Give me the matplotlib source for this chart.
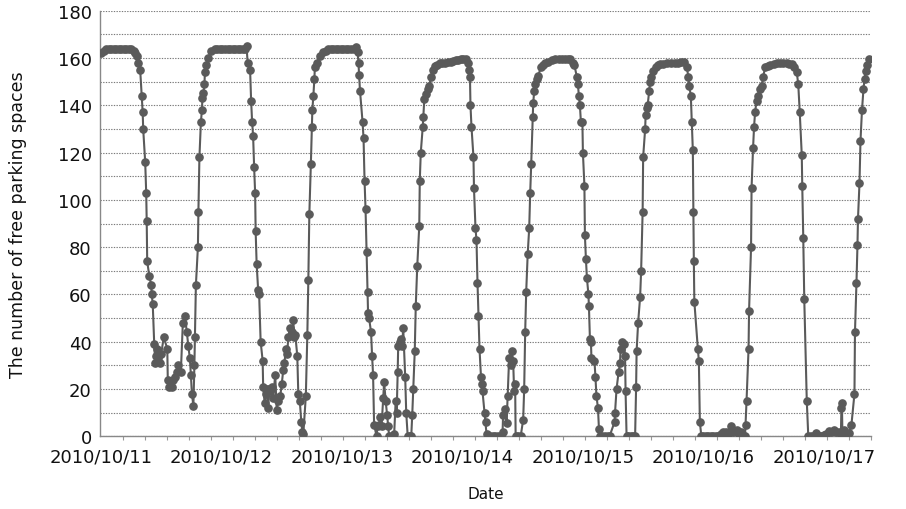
import matplotlib
matplotlib.use("Agg")
import matplotlib.pyplot as plt
from matplotlib.ticker import MultipleLocator, FixedLocator, FixedFormatter

# ── data: free parking spaces, hours counted from 2010/10/11 00:00 ──────────

day1_hours = [0.0, 0.5, 1.0, 1.5, 2.0, 2.5, 3.0, 3.5, 4.0, 4.5, 5.0, 5.5, 6.0, 6.5,
              6.8, 7.1, 7.3, 7.8, 8.1, 8.3, 8.4, 8.8, 9.0, 9.1, 9.2, 9.6, 10.0, 10.1,
              10.3, 10.6, 10.8, 11.0, 11.2, 11.4, 11.8, 12.0, 12.5, 13.2, 13.3, 13.6,
              14.1, 14.4, 14.8, 15.1, 15.4, 15.9, 16.3, 16.7, 17.1, 17.4, 17.7, 17.9,
              18.1, 18.4, 18.6, 18.7, 18.9, 19.3, 19.4, 19.6, 19.9, 20.1, 20.2, 20.4,
              20.6, 20.7, 21.0, 21.4, 22.0, 22.7, 23.2, 23.7]
day1_free = [162, 163, 164, 164, 164, 164, 164, 164, 164, 164, 164, 164, 164, 163,
             162, 161, 158, 155, 144, 137, 130, 116, 103, 91, 74, 68, 64, 60,
             56, 39, 31, 34, 37, 33, 31, 35, 42, 37, 24, 21,
             21, 24, 25, 27, 30, 27, 48, 51, 44, 38, 33, 26,
             18, 13, 30, 42, 64, 80, 95, 118, 133, 138, 143, 145,
             149, 154, 157, 160, 163, 164, 164, 164]

day2_hours = [24.2, 24.7, 25.2, 25.7, 26.2, 26.7, 27.2, 27.7, 28.2, 28.7, 29.0, 29.2,
              29.7, 29.9, 30.1, 30.3, 30.5, 30.7, 30.8, 31.0, 31.3, 31.5, 31.8, 32.2,
              32.3, 32.6, 32.8, 33.0, 33.3, 33.5, 33.7, 34.0, 34.3, 34.7, 35.0, 35.3,
              35.7, 36.0, 36.3, 36.5, 36.9, 37.1, 37.3, 37.7, 38.0, 38.3, 38.5, 38.7,
              39.1, 39.3, 39.6, 39.9, 40.1, 40.3, 40.8, 41.1, 41.3, 41.5, 41.8, 42.0,
              42.1, 42.3, 42.5, 42.6, 43.0, 43.6, 44.3, 44.8, 45.3, 45.8, 46.3, 46.8,
              47.3, 47.8]
day2_free = [164, 164, 164, 164, 164, 164, 164, 164, 164, 164, 165, 158,
             155, 142, 133, 127, 114, 103, 87, 73, 62, 60, 40, 32,
             21, 14, 18, 20, 12, 20, 19, 21, 16, 26, 11, 15,
             17, 22, 28, 31, 37, 35, 42, 46, 44, 49, 42, 43,
             34, 18, 15, 6, 2, 1, 17, 43, 66, 94, 115, 131,
             138, 144, 151, 156, 158, 161, 162.5, 163, 164, 164, 164, 164,
             164, 164]

day3_hours = [48.3, 48.8, 49.3, 49.8, 50.3, 50.7, 51.1, 51.3, 51.4, 51.6, 52.1, 52.3,
              52.5, 52.7, 52.9, 53.1, 53.2, 53.4, 53.8, 54.0, 54.2, 54.4, 54.9, 55.1,
              55.4, 55.6, 55.9, 56.2, 56.4, 56.7, 57.0, 57.2, 57.4, 57.9, 58.4, 58.7,
              58.9, 59.1, 59.2, 59.5, 59.7, 60.0, 60.2, 60.6, 60.8, 61.1, 61.5, 61.8,
              62.0, 62.2, 62.5, 62.7, 63.0, 63.4, 63.5, 63.7, 64.1, 64.2, 64.4, 64.7,
              65.1, 65.4, 65.7, 66.1, 66.5, 67.0, 67.5, 68.0, 68.5, 69.2, 69.7, 70.2,
              70.7, 71.2, 71.7, 72.2]
day3_free = [164, 164, 164, 164, 164, 164.5, 162.5, 158, 153, 146, 133, 126,
             108, 96, 78, 61, 52, 50, 44, 34, 26, 5, 0, 4.5,
             5, 8, 4.5, 16, 23, 15, 9, 4.5, 0, 0, 1, 15,
             10, 27, 38, 40, 41, 38, 46, 25, 10, 0, 0, 0,
             9, 20, 36, 55, 72, 89, 108, 120, 131, 135, 142.5, 144.6,
             146.8, 148, 152, 155, 156.6, 157, 157.7, 158, 158, 158.3, 158.5, 158.7,
             159, 159, 159.4, 159.4]

day4_hours = [72.7, 73.1, 73.3, 73.5, 73.6, 73.8, 74.2, 74.3, 74.6, 74.8, 75.0, 75.2,
              75.4, 75.7, 75.8, 76.0, 76.4, 76.6, 76.8, 77.0, 77.5, 78.0, 78.5, 79.0,
              79.6, 80.0, 80.1, 80.5, 80.8, 81.0, 81.3, 81.6, 81.8, 82.1, 82.3, 82.5,
              82.6, 83.0, 83.6, 84.1, 84.3, 84.5, 84.7, 85.0, 85.3, 85.5, 85.7, 86.0,
              86.1, 86.3, 86.5, 86.8, 87.1, 87.6, 88.0, 88.4, 89.0, 89.8, 90.5, 91.2,
              91.8, 92.5, 93.0, 93.4, 94.0, 94.3, 94.8, 95.0, 95.2, 95.4, 95.6]
day4_free = [159.4, 158, 155, 152, 140, 131, 118, 105, 88, 83, 65, 51,
             37, 25, 22, 19, 10, 6, 1, 0, 0, 0, 0, 0,
             0, 2, 9, 11.5, 5.6, 17, 33, 30, 36, 32, 19, 22,
             0, 0, 0, 7, 20, 44, 61, 77, 88, 103, 115, 135,
             141, 146, 149, 151, 152.4, 156, 157, 158, 158.5, 159.2, 159.5, 159.7,
             159.7, 159.5, 159.4, 159.4, 158, 157, 152, 149, 144, 140, 133]

day5_hours = [95.9, 96.0, 96.3, 96.4, 96.6, 96.8, 97.1, 97.2, 97.4, 97.6, 97.7, 98.3,
              98.5, 98.7, 99.0, 99.2, 99.4, 99.9, 100.4, 100.9, 101.3, 102.3, 102.4, 102.7,
              103.1, 103.4, 103.5, 103.8, 104.2, 104.4, 104.5, 104.7, 105.0, 105.5, 106.0, 106.4,
              106.6, 106.7, 107.0, 107.4, 107.6, 107.9, 108.0, 108.4, 108.5, 108.7, 108.9, 109.2,
              109.4, 109.6, 110.0, 110.5, 111.0, 111.4, 112.0, 112.7, 113.5, 114.3, 115.0, 115.5,
              116.2, 116.7, 117.0, 117.2, 117.5, 117.7, 117.9, 118.0, 118.1, 118.2, 118.9, 119.1,
              119.3, 119.6]
day5_free = [133, 120, 106, 85, 75, 67, 60, 55, 41, 40, 33, 32,
             25, 17, 12, 3, 0, 0, 0, 0, 0, 6, 10, 20,
             27, 31, 37, 40, 39, 34, 19, 0, 0, 0, 0, 0,
             21, 36, 48, 59, 70, 95, 118, 130, 136, 139, 140, 146,
             150, 152, 154.5, 156, 157, 157.3, 157.5, 157.7, 158, 158, 158, 158.3,
             158.5, 156.3, 152, 148, 144, 133, 121, 95, 74, 57, 37, 32,
             6, 0]

day6_hours = [120.0, 120.5, 121.0, 121.5, 122.0, 122.5, 123.0, 123.5, 124.0, 124.5, 125.0, 125.5,
              126.0, 126.6, 127.0, 127.5, 128.0, 128.3, 128.4, 128.6, 129.0, 129.1, 129.5, 129.6,
              129.9, 130.1, 130.3, 130.6, 130.8, 131.3, 131.6, 131.9, 132.3, 132.8, 133.3, 134.0,
              134.6, 135.3, 135.9, 136.6, 137.1, 137.6, 138.1, 138.6, 138.9, 139.2, 139.6, 139.7,
              139.9, 140.1, 140.6, 140.9, 141.4, 142.0, 142.5, 143.0, 143.5, 144.0, 144.5, 145.0,
              145.5, 146.0, 146.5, 147.0, 147.4, 147.5, 147.6, 147.7, 148.0, 148.5, 149.0, 149.5,
              150.1, 150.2, 150.5, 150.7, 150.8, 151.1, 151.3, 151.6, 151.9, 152.1, 152.3, 152.5,
              152.9]
day6_free = [0, 0, 0, 0, 0, 0, 0, 1, 1.7, 2, 1, 4.2,
             2, 2.8, 1, 1.7, 0, 0, 5, 15, 37, 53, 80, 105,
             122, 131, 137, 142, 144, 147, 148, 152, 156, 156.5, 157, 157.5,
             157.7, 158, 158, 157.7, 157.5, 157.3, 156, 154, 149, 137, 119, 106,
             84, 58, 15, 0, 0, 0, 1.4, 0, 0, 0.5, 1, 2.4,
             2, 2.8, 2, 2, 1, 12, 14, 1, 2.8, 1, 1.5, 5,
             18, 44, 65, 81, 92, 107, 125, 138, 147, 151, 154.5, 157,
             159.4]

day_ticks = [0, 24, 48, 72, 96, 120, 144]
day_labels = ["2010/10/11", "2010/10/12", "2010/10/13", "2010/10/14",
              "2010/10/15", "2010/10/16", "2010/10/17"]

hours = day1_hours + day2_hours + day3_hours + day4_hours + day5_hours + day6_hours
free = day1_free + day2_free + day3_free + day4_free + day5_free + day6_free

# ── plot ──────────────────────────────────────────────────────────────────────

GREY = "#5a5a5a"

fig = plt.figure(figsize=(9.06, 5.10), dpi=100)
ax = fig.add_axes([0.1104, 0.1425, 0.851, 0.8345])

ax.plot(hours, free, color=GREY, linewidth=1.5, marker="o", markersize=5.2,
        markerfacecolor=GREY, markeredgecolor=GREY, zorder=3)

ax.set_xlim(-0.2, 153.4)
ax.set_ylim(0, 180)

ax.yaxis.set_major_locator(MultipleLocator(20))
ax.yaxis.set_minor_locator(MultipleLocator(10))
ax.grid(axis="y", which="both", color="#7a7a7a", linestyle=(0, (1.2, 1.2)), linewidth=0.8)
ax.set_axisbelow(True)

ax.xaxis.set_major_locator(FixedLocator(day_ticks))
ax.xaxis.set_major_formatter(FixedFormatter(day_labels))
ax.xaxis.set_minor_locator(MultipleLocator(4.38))

ax.tick_params(axis="x", which="major", length=0, pad=8, labelsize=13, colors="#111111")
ax.tick_params(axis="x", which="minor", length=3, width=0.8, color="#999999")
ax.tick_params(axis="y", which="major", length=0, pad=6, labelsize=13, colors="#111111")
ax.tick_params(axis="y", which="minor", length=0)

for side in ("top", "right"):
    ax.spines[side].set_visible(False)
for side in ("left", "bottom"):
    ax.spines[side].set_color("#888888")
    ax.spines[side].set_linewidth(1.0)

ax.set_xlabel("Date", fontsize=11, labelpad=15, color="#111111")
ax.set_ylabel("The number of free parking spaces", fontsize=12.5, labelpad=22,
              color="#111111")

fig.savefig("out.png", dpi=100)
